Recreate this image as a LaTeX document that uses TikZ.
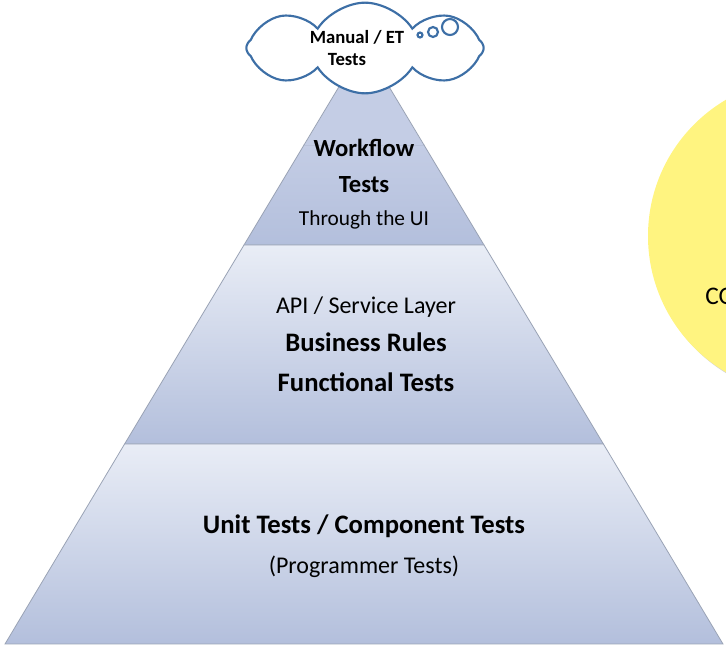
\documentclass[tikz,border=0pt]{standalone}
\usepackage{fontspec}
\setmainfont{Carlito}
\usetikzlibrary{shapes.symbols,shadows}

\definecolor{tierlight}{HTML}{E9EDF6}
\definecolor{tierdark}{HTML}{B3BFDC}
\definecolor{tiertop}{HTML}{C4CDE5}
\definecolor{tierline}{HTML}{9AA3B5}
\definecolor{cloudblue}{HTML}{3D6FA6}
\definecolor{noteyellow}{HTML}{FFF480}

\begin{document}
\begin{tikzpicture}[x=0.75pt,y=-0.75pt,
  tier/.style={draw=tierline,line width=0.6pt,top color=tierlight,bottom color=tierdark},
  boldtext/.style={anchor=base,inner sep=0,font=\fontsize{20}{22}\selectfont\bfseries},
  plaintext/.style={anchor=base,inner sep=0,font=\fontsize{18}{21}\selectfont},
  cloudtext/.style={anchor=base,inner sep=0,font=\fontsize{14}{16}\selectfont\bfseries},
  bubble/.style={draw=cloudblue,line width=1.6pt}]
  \useasboundingbox (0,0) rectangle (726,645);
  \clip (0,0) rectangle (726,645);

  % yellow note on the right
  \node[circle,fill=noteyellow,minimum size=237pt,inner sep=0,
        drop shadow={shadow xshift=1.5pt,shadow yshift=-1.5pt,opacity=0.35}] (note) at (806,236) {};
  \node[anchor=base west,inner sep=0,font=\fontsize{19}{21}\selectfont] (notetext) at (705,305) {CO};

  % pyramid
  \coordinate (apex) at (364,45);
  \draw[tier,top color=tiertop] (244,245) -- (304,145) -- (424,145) -- (484,245) -- cycle;
  \draw[tier] (124.6,444) -- (244,245) -- (484,245) -- (603.4,444) -- cycle;
  \draw[tier] (5,644) -- (124.6,444) -- (603.4,444) -- (723,644) -- cycle;
  \fill[tiertop] (304,145.5) -- (apex) -- (424,145.5) -- cycle;
  \draw[tierline,line width=0.6pt] (304,145) -- (apex) -- (424,145);

  % top tier
  \node[boldtext,font=\fontsize{18.5}{21}\selectfont\bfseries] (wf1) at (364,157) {Workflow};
  \node[boldtext,font=\fontsize{18.5}{21}\selectfont\bfseries] (wf2) at (364,193) {Tests};
  \node[plaintext,font=\fontsize{16}{18}\selectfont] (wf3) at (364,226) {Through the UI};

  % middle tier
  \node[plaintext] (api1) at (366,314) {API / Service Layer};
  \node[boldtext] (api2) at (366,352) {Business Rules};
  \node[boldtext] (api3) at (366,392) {Functional Tests};

  % bottom tier
  \node[boldtext] (unit1) at (364,534) {Unit Tests / Component Tests};
  \node[plaintext] (unit2) at (364,574) {(Programmer Tests)};

  % cloud on top
  \node[cloud,draw=cloudblue,fill=white,line width=1.6pt,cloud puffs=8,cloud puff arc=115,
        aspect=2.4,minimum width=178pt,minimum height=68pt,inner sep=0] (cloud) at (365,48) {};
  \node[cloudtext] (manual) at (357,44) {Manual / ET};
  \node[cloudtext] (mtests) at (347,66) {Tests};
  \draw[bubble] (420,35) circle [radius=2.5];
  \draw[bubble] (433,32) circle [radius=5];
  \draw[bubble] (450,27) circle [radius=8];
\end{tikzpicture}
\end{document}
